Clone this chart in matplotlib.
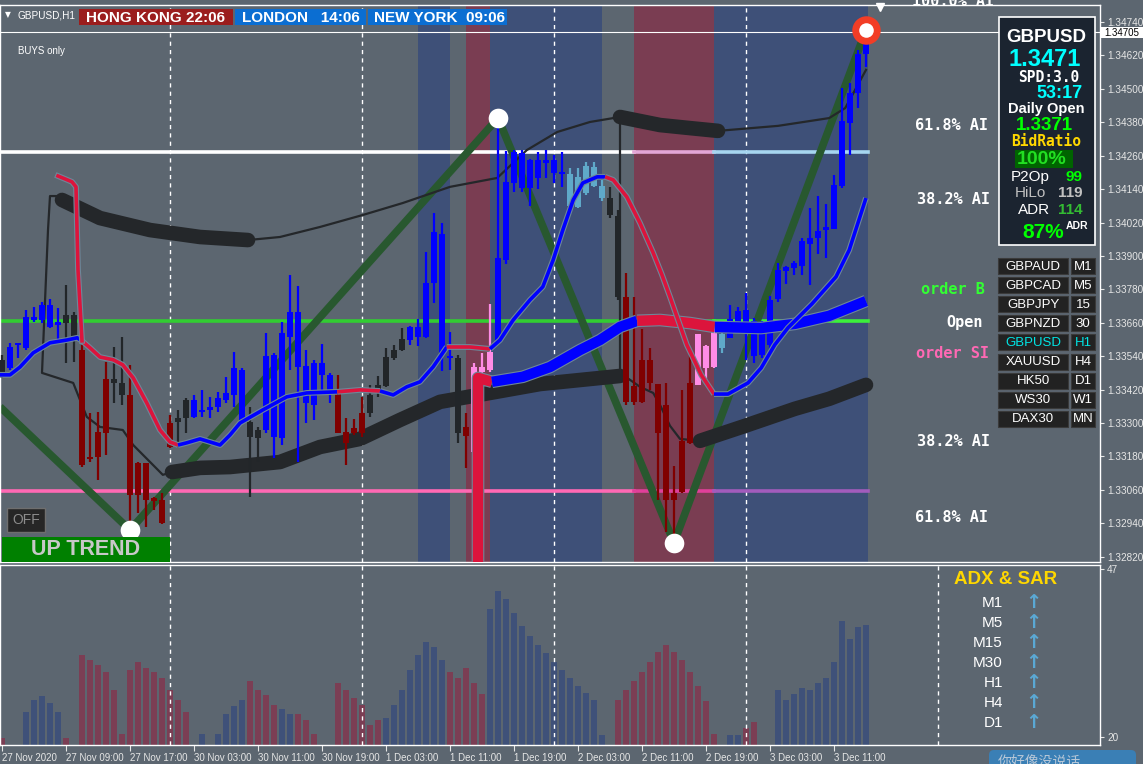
import numpy as np
import matplotlib
matplotlib.use("Agg")
import matplotlib.pyplot as plt
import matplotlib.patheffects as pe
from matplotlib.patches import Rectangle, FancyBboxPatch
from matplotlib import font_manager

plt.rcParams['font.family'] = ['Liberation Sans', 'DejaVu Sans']

# GBPUSD H1 candles, bar 0 = 27 Nov 2020 01:00
opens = [1.33527, 1.33498, 1.33580, 1.33570, 1.33670, 1.33670, 1.33645, 1.33652, 1.33688, 1.33688,
         1.33562, 1.33178, 1.33268, 1.33458, 1.33458, 1.33444, 1.33401, 1.33157, 1.33157, 1.33031,
         1.33024, 1.33300, 1.33318, 1.33383, 1.33322, 1.33340, 1.33347, 1.33358, 1.33383, 1.33401,
         1.33304, 1.33304, 1.33275, 1.33275, 1.33250, 1.33247, 1.33609, 1.33501, 1.33372, 1.33365,
         1.33473, 1.33408, 1.33408, 1.33268, 1.33282, 1.33336, 1.33336, 1.33422, 1.33433, 1.33534,
         1.33562, 1.33598, 1.33609, 1.33609, 1.33803, 1.33979, 1.33534, 1.33534, 1.33286, 1.33196,
         1.33484, 1.33491, 1.33588, 1.33886, 1.34162, 1.34144, 1.34144, 1.34180, 1.34234, 1.34198,
         1.34194, 1.34079, 1.34076, 1.34126, 1.34151, 1.34108, 1.34108, 1.34044, 1.33753, 1.33433,
         1.33527, 1.33527, 1.33440, 1.33365, 1.33049, 1.33236, 1.33444, 1.33437, 1.33498, 1.33501,
         1.33570, 1.33606, 1.33659, 1.33638, 1.33541, 1.33545, 1.33580, 1.33746, 1.33846, 1.33857,
         1.33864, 1.33943, 1.33965, 1.33993, 1.33997, 1.34151, 1.34377, 1.34485, 1.34625]
highs = [1.33545, 1.33588, 1.33588, 1.33706, 1.33717, 1.33735, 1.33746, 1.33713, 1.33796, 1.33699,
         1.33580, 1.33336, 1.33340, 1.33519, 1.33573, 1.33609, 1.33509, 1.33160, 1.33157, 1.33035,
         1.33049, 1.33329, 1.33347, 1.33390, 1.33401, 1.33419, 1.33394, 1.33412, 1.33466, 1.33555,
         1.33498, 1.33358, 1.33286, 1.33624, 1.33552, 1.33663, 1.33832, 1.33792, 1.33562, 1.33527,
         1.33584, 1.33480, 1.33473, 1.33318, 1.33315, 1.33394, 1.33437, 1.33469, 1.33570, 1.33580,
         1.33641, 1.33649, 1.33674, 1.33914, 1.34054, 1.34018, 1.33627, 1.33545, 1.33336, 1.33516,
         1.33552, 1.33728, 1.34395, 1.34277, 1.34280, 1.34280, 1.34248, 1.34273, 1.34280, 1.34263,
         1.34273, 1.34216, 1.34216, 1.34237, 1.34237, 1.34173, 1.34148, 1.34065, 1.33839, 1.33753,
         1.33638, 1.33570, 1.33440, 1.33444, 1.33146, 1.33419, 1.33545, 1.33620, 1.33580, 1.33667,
         1.33649, 1.33724, 1.33717, 1.33767, 1.33677, 1.33667, 1.33756, 1.33875, 1.33864, 1.33882,
         1.33965, 1.34072, 1.34115, 1.34087, 1.34191, 1.34503, 1.34521, 1.34639, 1.34711]
lows = [1.33462, 1.33491, 1.33534, 1.33562, 1.33663, 1.33659, 1.33641, 1.33598, 1.33516, 1.33519,
        1.33142, 1.33160, 1.33096, 1.33186, 1.33372, 1.33365, 1.32916, 1.32977, 1.32927, 1.32988,
        1.32938, 1.33211, 1.33232, 1.33265, 1.33318, 1.33322, 1.33318, 1.33340, 1.33372, 1.33358,
        1.33300, 1.33035, 1.33160, 1.33265, 1.33175, 1.33221, 1.33491, 1.33160, 1.33300, 1.33311,
        1.33419, 1.33372, 1.33265, 1.33150, 1.33257, 1.33250, 1.33322, 1.33394, 1.33430, 1.33527,
        1.33559, 1.33580, 1.33577, 1.33606, 1.33731, 1.33487, 1.33491, 1.33229, 1.33139, 1.33196,
        1.33466, 1.33484, 1.33580, 1.33871, 1.34130, 1.34130, 1.34079, 1.34140, 1.34180, 1.34162,
        1.34148, 1.34076, 1.34072, 1.34119, 1.34148, 1.34097, 1.34036, 1.33742, 1.33365, 1.33365,
        1.33372, 1.33419, 1.33024, 1.32909, 1.32870, 1.33049, 1.33225, 1.33437, 1.33455, 1.33498,
        1.33552, 1.33606, 1.33649, 1.33527, 1.33516, 1.33534, 1.33562, 1.33735, 1.33799, 1.33832,
        1.33832, 1.33796, 1.33907, 1.33893, 1.33997, 1.34144, 1.34263, 1.34431, 1.34578]
closes = [1.33484, 1.33573, 1.33584, 1.33681, 1.33681, 1.33724, 1.33724, 1.33663, 1.33659, 1.33609,
          1.33150, 1.33171, 1.33178, 1.33265, 1.33444, 1.33401, 1.33042, 1.33042, 1.33024, 1.33020,
          1.32941, 1.33214, 1.33304, 1.33318, 1.33383, 1.33347, 1.33358, 1.33390, 1.33408, 1.33498,
          1.33491, 1.33250, 1.33247, 1.33541, 1.33545, 1.33624, 1.33699, 1.33699, 1.33505, 1.33516,
          1.33516, 1.33473, 1.33265, 1.33229, 1.33265, 1.33265, 1.33401, 1.33437, 1.33537, 1.33562,
          1.33602, 1.33645, 1.33645, 1.33803, 1.33986, 1.33552, 1.33537, 1.33265, 1.33254, 1.33501,
          1.33501, 1.33555, 1.33893, 1.34166, 1.34273, 1.34270, 1.34245, 1.34245, 1.34245, 1.34245,
          1.34202, 1.34194, 1.34184, 1.34223, 1.34219, 1.34151, 1.34047, 1.33753, 1.33376, 1.33376,
          1.33376, 1.33444, 1.33265, 1.33024, 1.33024, 1.33053, 1.33229, 1.33620, 1.33577, 1.33667,
          1.33620, 1.33674, 1.33703, 1.33706, 1.33667, 1.33649, 1.33742, 1.33850, 1.33860, 1.33875,
          1.33954, 1.33965, 1.33990, 1.34004, 1.34155, 1.34385, 1.34485, 1.34625, 1.34701]
# candle colour state: b blue, r red, k black, p pink, c light blue
candle_state = ("k" + "b" * 7 + "kk" + "r" * 4 + "kk" + "r" * 6 + "kk" + "b" * 7 + "kk" + "b" * 9
                + "r" * 4 + "k" * 5 + "b" * 6 + "k" + "r" + "ppp" + "b" * 9 + "c" * 5 + "kk"
                + "r" * 9 + "ppp" + "c" + "b" * 18)

time_ticks = list(range(0, 105, 8))
time_labels = ["27 Nov 2020", "27 Nov 09:00", "27 Nov 17:00", "30 Nov 03:00", "30 Nov 11:00",
               "30 Nov 19:00", "1 Dec 03:00", "1 Dec 11:00", "1 Dec 19:00", "2 Dec 03:00",
               "2 Dec 11:00", "2 Dec 19:00", "3 Dec 03:00", "3 Dec 11:00"]
day_starts = [21, 45, 69, 93]
price_ticks = [1.34740, 1.34620, 1.34500, 1.34380, 1.34260, 1.34140, 1.34020, 1.33900, 1.33780,
               1.33660, 1.33540, 1.33420, 1.33300, 1.33180, 1.33060, 1.32940, 1.32820]
bid_price = 1.34705

# sessions as bar ranges (MT4 rectangles run from bar centre to bar centre)
session_blue = [(52, 56), (61, 75), (89, 108.3)]
session_red = [(58, 61), (79, 89)]

# horizontal levels
level_top = 1.34273
level_open = 1.33665
level_low = 1.33056
level_end = 108.3

# fast MA (blue / red by state)
fast_x = [-0.25, 1, 2.25, 3.9, 6, 8.1, 9.4, 10, 11, 12.25, 13.9, 15.1, 16.4, 18.1, 19.75, 21, 22,
          23.1, 24.75, 26, 27.25, 28.5, 29.75, 32.6, 35.6, 38.1, 41.9, 44.75, 47.25, 48.9, 50.6,
          52.25, 53.9, 55.6, 58.5, 61, 62.25, 63.9, 66, 67.6, 68.9, 70.1, 71.4, 72.6, 74.4, 75.4,
          76.4, 78.1, 79.75, 81.4, 82.5, 83.5, 85.6, 87.4, 89, 90.75, 93.25, 94.9, 96.6, 98.25,
          101.25, 104.25, 105.9, 108]
fast_y = [1.33473, 1.33473, 1.33501, 1.33552, 1.33588, 1.33598, 1.33606, 1.33595, 1.33570, 1.33537,
          1.33527, 1.33509, 1.33462, 1.33372, 1.33275, 1.33232, 1.33221, 1.33229, 1.33243, 1.33232,
          1.33221, 1.33257, 1.33300, 1.33347, 1.33394, 1.33408, 1.33412, 1.33419, 1.33415, 1.33401,
          1.33430, 1.33448, 1.33502, 1.33573, 1.33573, 1.33566, 1.33598, 1.33670, 1.33742, 1.33789,
          1.33886, 1.33993, 1.34101, 1.34162, 1.34184, 1.34184, 1.34173, 1.34112, 1.34018, 1.33911,
          1.33832, 1.33753, 1.33581, 1.33473, 1.33404, 1.33404, 1.33444, 1.33498, 1.33581, 1.33642,
          1.33728, 1.33825, 1.33921, 1.34108]
fast_turns = [10, 22, 41.9, 47.25, 55.6, 61, 75.4, 89]
fast_spike_x = [7, 8.75, 9.25, 9.5, 10]
fast_spike_y = [1.34187, 1.34166, 1.34148, 1.33850, 1.33595]

# slow MA (thick, red / blue)
slow_x = [59.5, 59.5, 61.25, 65.1, 68.5, 72.25, 74.75, 77.25, 79.4, 82.25, 86, 89.1, 94.9, 99.1, 103.4, 108]
slow_y = [1.32780, 1.33462, 1.33448, 1.33466, 1.33501, 1.33562, 1.33598, 1.33645, 1.33667, 1.33670,
          1.33659, 1.33645, 1.33641, 1.33656, 1.33685, 1.33738]
slow_turns = [61.25, 79.4, 89.1]

# black channel, thick and thin parts
black_thick = [
    [(7.5, 1.34101), (12.25, 1.34036), (18.5, 1.33993), (24.75, 1.33968), (30.75, 1.33957)],
    [(21.25, 1.33124), (24.75, 1.33139), (28.5, 1.33142), (34.75, 1.33160), (39.75, 1.33214),
     (44.75, 1.33243), (49.75, 1.33311), (54.75, 1.33376), (61, 1.33408), (67.25, 1.33440), (77.25, 1.33469)],
    [(77.25, 1.34399), (82.25, 1.34370), (86, 1.34359), (89.5, 1.34349)],
    [(87.25, 1.33236), (92.9, 1.33290), (99.1, 1.33351), (103.4, 1.33387), (108, 1.33437)],
]
black_thin = [
    [(7.5, 1.34115), (6, 1.34115), (5.75, 1.33993), (5, 1.33480), (8.9, 1.33444), (10.6, 1.33322),
     (12.25, 1.33286), (15.1, 1.33275), (16.4, 1.33221), (20.1, 1.33114), (21.25, 1.33124)],
    [(30.75, 1.33957), (34.75, 1.33968), (39.75, 1.34004), (45.1, 1.34047), (50.1, 1.34090),
     (56, 1.34148), (61.9, 1.34180), (65.6, 1.34280), (69.4, 1.34345), (73.5, 1.34381),
     (77.25, 1.34399), (77.25, 1.33480), (79.75, 1.33430), (81.4, 1.33408), (82.25, 1.33365),
     (83.5, 1.33290), (84.75, 1.33243), (87.25, 1.33236)],
    [(89.5, 1.34349), (97, 1.34367), (103.4, 1.34395), (105.4, 1.34431), (108, 1.34568)],
]

# zigzag swing points
zz_x = [-0.25, 16, 62, 84, 108]
zz_y = [1.33358, 1.32916, 1.34395, 1.32870, 1.34711]

# ADX histogram
adx = [19.9, 0, 0, 24.0, 26.0, 26.5, 25.5, 24.0, 19.9, 0,
       33.2, 32.4, 31.6, 30.5, 27.6, 20.5, 30.8, 32.1, 31.1, 30.5,
       29.5, 27.6, 26.0, 24.0, 0, 20.5, 0, 20.5, 23.6, 25.0,
       26.0, 28.9, 27.6, 26.8, 25.2, 24.4, 23.6, 23.6, 22.7, 20.5,
       0, 0, 28.7, 27.6, 26.3, 25.2, 21.9, 22.7, 23.1, 25.2,
       27.6, 30.8, 33.2, 35.2, 34.4, 32.4, 30.5, 29.5, 31.1, 28.6,
       26.9, 40.5, 43.4, 42.1, 39.9, 37.8, 36.2, 34.7, 33.4, 32.0,
       30.7, 29.4, 28.2, 27.1, 26.0, 20.3, 0, 26.0, 27.6, 28.9,
       30.5, 32.1, 33.7, 34.7, 33.7, 32.4, 30.5, 28.2, 25.7, 20.5,
       0, 20.3, 20.3, 21.5, 22.4, 0, 0, 27.6, 26.0, 26.9,
       27.9, 27.6, 28.6, 29.5, 32.1, 38.6, 35.7, 37.6, 37.9]
adx_state = ("r--" + "b" * 5 + "r-" + "r" * 14 + "-b-" + "b" * 4 + "r" * 4 + "bb" + "rrr" + "--"
             + "r" * 6 + "b" * 8 + "r" * 5 + "b" * 15 + "-" + "r" * 13 + "-bbrr--" + "b" * 12)

symbols = ["GBPAUD", "GBPCAD", "GBPJPY", "GBPNZD", "GBPUSD", "XAUUSD", "HK50", "WS30", "DAX30"]
periods = ["M1", "M5", "15", "30", "H1", "H4", "D1", "W1", "MN"]
adx_frames = ["M1", "M5", "M15", "M30", "H1", "H4", "D1"]

BG = '#5C6670'
BLUE_BAND = '#3E5078'
RED_BAND = '#7A3D52'
CANDLE_COL = {'b': '#0000FF', 'r': '#800000', 'k': '#222629', 'p': '#FF8CE6', 'c': '#5FA9C9'}
MONO = ['DejaVu Sans Mono']

# narrow face for the big symbol title if one is installed
installed = {f.name for f in font_manager.fontManager.ttflist}
if 'Liberation Sans Narrow' in installed:
    TITLE_FONT, TITLE_SIZE = ['Liberation Sans Narrow'], 17
else:
    TITLE_FONT, TITLE_SIZE = ['Liberation Sans'], 13.5

W, H = 1143, 764
fig = plt.figure(figsize=(W / 100, H / 100), dpi=100, facecolor=BG)


def frame(x0, y0, x1, y1):
    return [x0 / W, 1 - y1 / H, (x1 - x0) / W, (y1 - y0) / H]


ax = fig.add_axes(frame(0, 5, 1100, 562))
ax2 = fig.add_axes(frame(0, 565, 1100, 745))
for a in (ax, ax2):
    a.set_facecolor(BG)
    for s in a.spines.values():
        s.set_color('white')
        s.set_linewidth(1)
    a.set_xlim(-0.25, 137.25)
    a.yaxis.tick_right()
    a.tick_params(axis='y', labelsize=7.2, colors='#E6E6E6', length=3, width=0.8, pad=2)

# ---- price panel ----
ax.set_ylim(1.32801, 1.34801)
ax.set_yticks(price_ticks)
ax.set_yticklabels([f'{t:.5f}' for t in price_ticks])
ax.tick_params(axis='x', bottom=False, labelbottom=False)

for a0, a1 in session_blue:
    ax.axvspan(a0, a1, color=BLUE_BAND, lw=0, zorder=0)
for a0, a1 in session_red:
    ax.axvspan(a0, a1, color=RED_BAND, lw=0, zorder=0)
for d in day_starts:
    ax.axvline(d, color='white', lw=1, ls=(0, (3, 3)), zorder=1)

ax.axhline(bid_price, color='white', lw=0.8, zorder=1)
# levels change tint after the sessions start
ax.plot([-0.25, 79], [level_top] * 2, color='white', lw=2.6, zorder=1.5)
ax.plot([79, 89], [level_top] * 2, color='#E3A6D6', lw=2.6, zorder=1.5)
ax.plot([89, level_end], [level_top] * 2, color='#A6D6F0', lw=2.6, zorder=1.5)
ax.plot([-0.25, 89], [level_open] * 2, color='#32CD32', lw=2.6, zorder=1.5)
ax.plot([89, level_end], [level_open] * 2, color='#3CF03C', lw=2.6, zorder=1.5)
ax.plot([-0.25, 79], [level_low] * 2, color='#FF69B4', lw=2.6, zorder=1.5)
ax.plot([79, 89], [level_low] * 2, color='#E0409A', lw=2.6, zorder=1.5)
ax.plot([89, level_end], [level_low] * 2, color='#A25CBC', lw=2.6, zorder=1.5)

ax.plot(zz_x, zz_y, color='#28582F', lw=5.5, solid_capstyle='butt', zorder=2)

for seg in black_thick:
    xs, ys = zip(*seg)
    ax.plot(xs, ys, color='#24272A', lw=10.5, solid_capstyle='round', zorder=3)
for seg in black_thin:
    xs, ys = zip(*seg)
    ax.plot(xs, ys, color='#24272A', lw=1.6, zorder=3)

# candles
bx = np.arange(len(opens))
o = np.array(opens)
c = np.array(closes)
body_lo = np.minimum(o, c)
body_h = np.maximum(np.abs(c - o), 0.00006)
cols = [CANDLE_COL[s] for s in candle_state]
ax.vlines(bx, lows, highs, colors=cols, lw=1.6, zorder=4)
ax.bar(bx, body_h, bottom=body_lo, width=0.72, color=cols, lw=0, zorder=4)

outline = '#6E8799'


def draw_colored(xs, ys, turns, first, width, z):
    xs = np.array(xs)
    ys = np.array(ys)
    edges = [xs[0]] + list(turns) + [xs[-1]]
    colr = first
    for e0, e1 in zip(edges[:-1], edges[1:]):
        m = (xs >= e0) & (xs <= e1)
        ax.plot(xs[m], ys[m], color=colr, lw=width, solid_capstyle='butt', solid_joinstyle='round',
                path_effects=[pe.Stroke(linewidth=width + 1.6, foreground=outline), pe.Normal()],
                zorder=z)
        colr = '#DC143C' if colr == '#0000FF' else '#0000FF'


draw_colored(slow_x, slow_y, slow_turns, '#DC143C', 7.5, 5)
draw_colored(fast_x, fast_y, fast_turns, '#0000FF', 2.6, 5.5)
ax.plot(fast_spike_x, fast_spike_y, color='#DC143C', lw=2.6, zorder=5.5,
        path_effects=[pe.Stroke(linewidth=4.2, foreground=outline), pe.Normal()])

ax.scatter(zz_x[1:4], zz_y[1:4], s=200, color='white', zorder=6, lw=0)
ax.scatter([zz_x[4]], [zz_y[4]], s=420, color='#F23D26', zorder=6, lw=0)
ax.scatter([zz_x[4]], [zz_y[4]], s=110, color='white', zorder=6.5, lw=0)

# ---- ADX panel ----
ax2.set_ylim(18.7, 47.6)
ax2.set_yticks([20, 47])
ax2.set_yticklabels(['20', '47'])
adx_cols = ['#7B3E54' if s == 'r' else '#3F5179' for s in adx_state]
ax2.bar(np.arange(len(adx)), adx, width=0.86, color=adx_cols, lw=0, zorder=1)
for d in day_starts + [117]:
    ax2.axvline(d, color='white', lw=1, ls=(0, (3, 3)), zorder=2)
ax2.set_xticks(time_ticks)
ax2.set_xticklabels(time_labels)
ax2.tick_params(axis='x', colors='#E6E6E6', labelsize=7, length=4, width=0.8, pad=1.5)
for lab in ax2.get_xticklabels():
    lab.set_horizontalalignment('left')

# ---- overlay in pixel coordinates ----
ov = fig.add_axes([0, 0, 1, 1])
ov.set_xlim(0, W)
ov.set_ylim(H, 0)
ov.axis('off')
ov.set_zorder(10)


def box(x0, y0, x1, y1, fc, ec='none', lw=0.0):
    ov.add_patch(Rectangle((x0, y0), x1 - x0, y1 - y0, facecolor=fc, edgecolor=ec, linewidth=lw))


def label(x, y, s, size, color='white', ha='left', weight='normal', family=None):
    kw = {'family': family} if family else {}
    ov.text(x, y, s, fontsize=size, color=color, ha=ha, va='center', fontweight=weight, **kw)


# top bar
label(5, 15, '▼', 5.5, family=['DejaVu Sans'])
label(17, 15, 'GBPUSD,H1', 7.2)
box(79, 9, 233, 25, '#9B1D1D')
label(156, 17.5, 'HONG KONG 22:06', 11, ha='center', weight='bold')
box(235, 9, 366, 25, '#0B6ED2')
label(301, 17.5, 'LONDON   14:06', 11, ha='center', weight='bold')
box(368, 9, 507, 25, '#0B6ED2')
label(439, 17.5, 'NEW YORK  09:06', 11, ha='center', weight='bold')
label(18, 51, 'BUYS only', 7)
ov.plot(880, 7, marker='v', color='white', ms=6)

# fibo / order labels on the right of the bars
for txt, x, y, col in [('100.0% AI', 912, 1, 'white'), ('61.8% AI', 915, 125, 'white'),
                       ('38.2% AI', 917, 200, 'white'), ('order B', 921, 290, '#33FF33'),
                       ('Open', 946, 322, 'white'), ('order SI', 916, 353, '#FF69B4'),
                       ('38.2% AI', 917, 441, 'white'), ('61.8% AI', 915, 517, 'white')]:
    label(x, y, txt, 11, col, weight='bold', family=MONO)

# current price tag
box(1101, 27, 1143, 38, 'white')
label(1104, 32.5, f'{bid_price:.5f}', 7, 'black')

# info panel
box(999, 17, 1095, 245, '#1B2430', 'white', 1.2)
label(1046, 37, 'GBPUSD', TITLE_SIZE, ha='center', weight='bold', family=TITLE_FONT)
label(1045, 60, '1.3471', 17, '#00FFFF', 'center', 'bold')
label(1049, 78, 'SPD:3.0', 10.5, 'white', 'center', 'bold', MONO)
label(1083, 94, '53:17', 13, '#00FFFF', 'right', 'bold')
label(1046, 109, 'Daily Open', 10.5, 'white', 'center', 'bold')
label(1044, 126, '1.3371', 13.5, '#00FF00', 'center', 'bold')
label(1046, 142, 'BidRatio', 10.5, '#FFD700', 'center', 'bold', MONO)
box(1015, 150, 1073, 168, '#006400')
label(1042, 159, '100%', 14, '#22E022', 'center', 'bold')
label(1011, 177, 'P2Op', 11)
label(1083, 177, '99', 11, '#00FF00', 'right', 'bold')
label(1015, 193, 'HiLo', 11, '#C0C0C0')
label(1083, 193, '119', 11, '#C0C0C0', 'right', 'bold')
label(1018, 210, 'ADR', 11)
label(1083, 210, '114', 11, '#33BB33', 'right', 'bold')
label(1064, 233, '87%', 15, '#00FF00', 'right', 'bold')
label(1066, 226, 'ADR', 7.5, 'white', 'left', 'bold')

# symbol / period buttons
for k, (sym, per) in enumerate(zip(symbols, periods)):
    top = 258 + k * 19.1
    box(998, top, 1068, top + 16, '#222222', '#3A3A3A', 0.8)
    box(1071, top, 1095, top + 16, '#222222', '#3A3A3A', 0.8)
    col = '#00E5E5' if sym == 'GBPUSD' else 'white'
    label(1033, top + 8.5, sym, 9.5, col, 'center')
    label(1083, top + 8.5, per, 9.5, col, 'center')

# trend widgets
box(7, 508, 45, 532, '#262626', '#6E6E6E', 1)
label(26, 520, 'OFF', 10, '#8C8C8C', 'center')
box(2, 537, 170, 562, '#008000')
label(86, 549.5, 'UP TREND', 15.5, '#C8C8C8', 'center', 'bold')

# ADX & SAR table
label(1006, 579, 'ADX & SAR', 13.5, '#FFD700', 'center', 'bold')
for k, tf in enumerate(adx_frames):
    y = 603 + k * 20
    label(1003, y, tf, 11, 'white', 'right')
    label(1033, y, '↑', 14, '#5AA8D4', 'center', 'bold', ['DejaVu Sans'])

# chat bubble at the bottom edge
ov.add_patch(FancyBboxPatch((989, 750), 147, 30, boxstyle='round,pad=0,rounding_size=5',
                            facecolor='#3A7FB5', edgecolor='none'))
ov.text(998, 755, '你好像没说话', fontsize=10, color='#B8C8D8', ha='left', va='top',
        family=['Noto Sans CJK SC', 'DejaVu Sans'])

fig.savefig('out.png', dpi=100, facecolor=BG)
